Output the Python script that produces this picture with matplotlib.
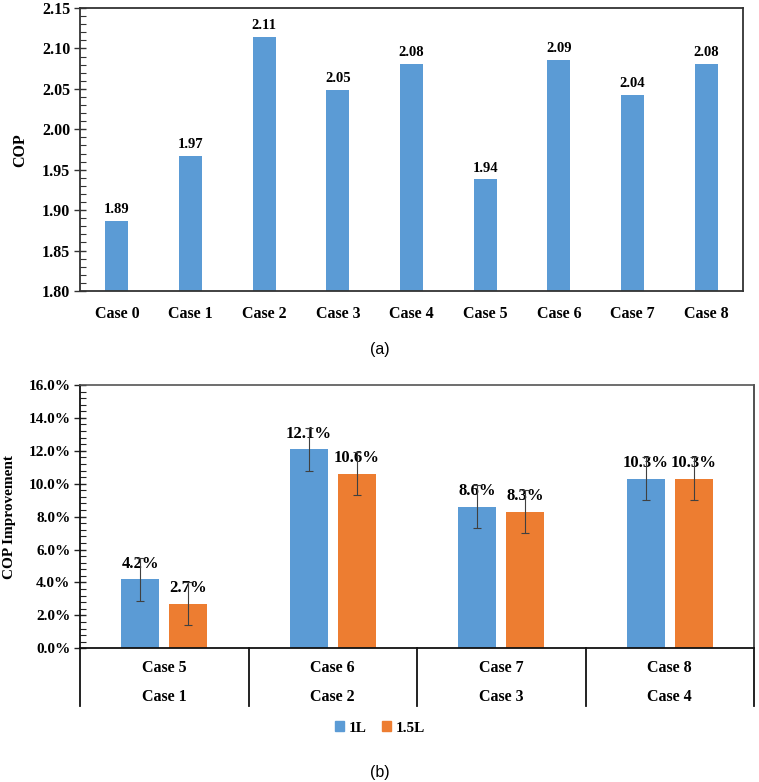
import matplotlib
matplotlib.use("Agg")
import matplotlib.pyplot as plt
from matplotlib.patches import Patch
from matplotlib.ticker import MultipleLocator, FuncFormatter
import matplotlib.transforms as mtransforms

# ---------------- data ----------------
cases_a = ["Case 0", "Case 1", "Case 2", "Case 3", "Case 4", "Case 5", "Case 6", "Case 7", "Case 8"]
cop_values = [1.887, 1.967, 2.114, 2.049, 2.081, 1.938, 2.086, 2.043, 2.081]

groups_top = ["Case 5", "Case 6", "Case 7", "Case 8"]
groups_bottom = ["Case 1", "Case 2", "Case 3", "Case 4"]
impr_1L = [4.2, 12.1, 8.6, 10.3]
impr_15L = [2.7, 10.6, 8.3, 10.3]
err_1L = [1.3, 1.3, 1.3, 1.3]
err_15L = [1.3, 1.3, 1.3, 1.3]
series_names = ["1L", "1.5L"]

BLUE = "#5B9BD5"
ORANGE = "#ED7D31"
SERIF = "Liberation Serif"

W, H = 759, 782
fig = plt.figure(figsize=(W / 100, H / 100), dpi=100)

def fr(x0, y_top, x1, y_bot):
    return [x0 / W, 1 - y_bot / H, (x1 - x0) / W, (y_bot - y_top) / H]

# ---------------- chart (a) ----------------
ax1 = fig.add_axes(fr(80, 8, 743, 291))
x = list(range(len(cases_a)))
ax1.bar(x, cop_values, width=0.31, color=BLUE, zorder=2)
for xi, v in zip(x, cop_values):
    ax1.text(xi, v + 0.006, f"{v:.2f}", ha="center", va="bottom",
             fontsize=10.5, fontweight="bold", family=SERIF)
ax1.set_xlim(-0.5, len(cases_a) - 0.5)
ax1.set_ylim(1.80, 2.15)
ax1.yaxis.set_major_locator(MultipleLocator(0.05))
ax1.yaxis.set_minor_locator(MultipleLocator(0.01))
ax1.yaxis.set_major_formatter(FuncFormatter(lambda v, p: f"{v:.2f}"))
ax1.set_xticks(x)
ax1.set_xticklabels(cases_a)
ax1.tick_params(axis="x", length=0, pad=11)
ax1.tick_params(axis="y", which="major", direction="inout", length=8, width=1, color="#333333", pad=3)
ax1.tick_params(axis="y", which="minor", direction="in", length=4, width=0.8, color="#333333")
for lab in ax1.get_xticklabels():
    lab.set_fontfamily(SERIF); lab.set_fontweight("bold"); lab.set_fontsize(11.5)
for lab in ax1.get_yticklabels():
    lab.set_fontfamily(SERIF); lab.set_fontweight("bold"); lab.set_fontsize(11.5)
fig.text(20 / W, 1 - 150 / H, "COP", rotation=90, ha="center", va="center",
         fontsize=11.5, fontweight="bold", family=SERIF)
for s in ax1.spines.values():
    s.set_color("#333333"); s.set_linewidth(1.3)

fig.text(380 / W, 1 - 349 / H, "(a)", ha="center", va="center", fontsize=11.5, family="Liberation Sans")

# ---------------- chart (b) ----------------
ax2 = fig.add_axes(fr(80, 385, 754, 648.3))
g = list(range(len(groups_top)))
off = 0.142
bw = 0.224
ax2.bar([i - off for i in g], impr_1L, width=bw, color=BLUE, zorder=2, label=series_names[0])
ax2.bar([i + off for i in g], impr_15L, width=bw, color=ORANGE, zorder=2, label=series_names[1])
ax2.errorbar([i - off for i in g], impr_1L, yerr=err_1L, fmt="none", ecolor="#404040",
             elinewidth=0.8, capsize=3, capthick=0.8, zorder=4)
ax2.errorbar([i + off for i in g], impr_15L, yerr=err_15L, fmt="none", ecolor="#404040",
             elinewidth=0.8, capsize=3, capthick=0.8, zorder=4)
for i in g:
    ax2.text(i - off, impr_1L[i] + 0.45, f"{impr_1L[i]:.1f}%", ha="center", va="bottom",
             fontsize=12, fontweight="bold", family=SERIF, zorder=3)
    ax2.text(i + off, impr_15L[i] + 0.45, f"{impr_15L[i]:.1f}%", ha="center", va="bottom",
             fontsize=12, fontweight="bold", family=SERIF, zorder=3)
ax2.set_xlim(-0.5, len(groups_top) - 0.5)
ax2.set_ylim(0, 16)
ax2.yaxis.set_major_locator(MultipleLocator(2))
ax2.yaxis.set_minor_locator(MultipleLocator(0.4))
ax2.yaxis.set_major_formatter(FuncFormatter(lambda v, p: f"{v:.1f}%"))
ax2.set_xticks([])
ax2.tick_params(axis="y", which="major", direction="inout", length=8, width=1, color="#222222", pad=3)
ax2.tick_params(axis="y", which="minor", direction="in", length=4, width=0.8, color="#222222")
for lab in ax2.get_yticklabels():
    lab.set_fontfamily(SERIF); lab.set_fontweight("bold"); lab.set_fontsize(11)
fig.text(10 / W, 1 - 517 / H, "COP Improvement", rotation=90, ha="center", va="center",
         fontsize=11, fontweight="bold", family=SERIF)
ax2.spines["left"].set_color("#111111"); ax2.spines["left"].set_linewidth(1.3)
ax2.spines["bottom"].set_color("#111111"); ax2.spines["bottom"].set_linewidth(1.3)
ax2.spines["top"].set_color("#555555"); ax2.spines["top"].set_linewidth(1.2)
ax2.spines["right"].set_color("#333333"); ax2.spines["right"].set_linewidth(1.2)

trans = mtransforms.blended_transform_factory(ax2.transData, ax2.transAxes)
depth = -(706 - 648.3) / 263.3
for b in [-0.5, 0.5, 1.5, 2.5, 3.5]:
    ax2.plot([b, b], [0, depth], transform=trans, color="#111111", lw=1.3, clip_on=False)
for i in g:
    ax2.text(i, -(668 - 648.3) / 263.3, groups_top[i], transform=trans, ha="center", va="center",
             fontsize=11.5, fontweight="bold", family=SERIF)
    ax2.text(i, -(697 - 648.3) / 263.3, groups_bottom[i], transform=trans, ha="center", va="center",
             fontsize=11.5, fontweight="bold", family=SERIF)

handles = [Patch(color=BLUE, label=series_names[0]), Patch(color=ORANGE, label=series_names[1])]
fig.legend(handles=handles, loc="center", bbox_to_anchor=(380 / W, 1 - 728 / H), ncol=2,
           frameon=False, handlelength=0.6, handleheight=0.6, handletextpad=0.3, columnspacing=1.0,
           prop={"family": SERIF, "weight": "bold", "size": 11})

fig.text(380 / W, 1 - 773 / H, "(b)", ha="center", va="center", fontsize=11.5, family="Liberation Sans")

fig.savefig("out.png", dpi=100, facecolor="white")
